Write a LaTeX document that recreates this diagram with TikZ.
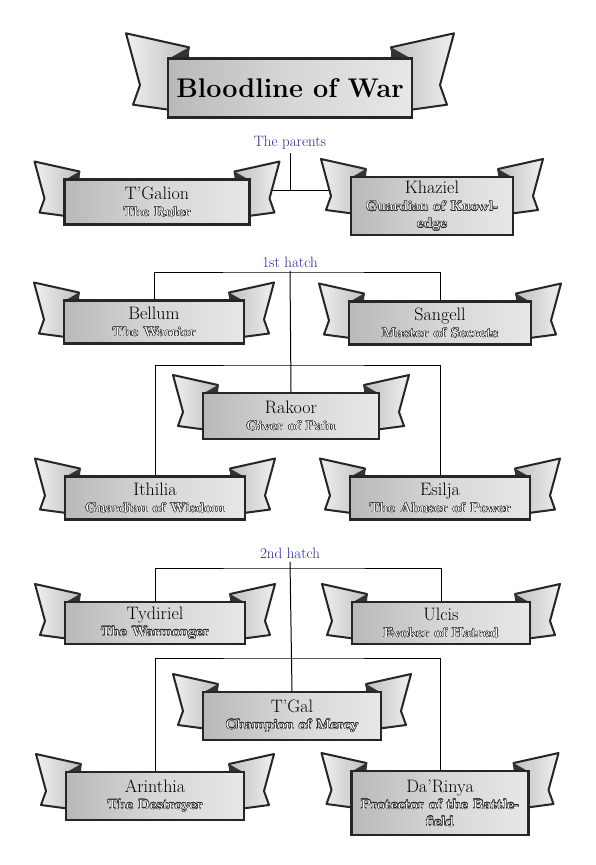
\documentclass[tikz,border=0pt]{standalone}
\usepackage{contour}
\usetikzlibrary{calc,backgrounds}
\contourlength{0.4pt}
\definecolor{hatchblue}{RGB}{36,40,150}
\pgfdeclarehorizontalshading{metal}{100bp}{color(0bp)=(gray!28); color(22bp)=(gray!58); color(50bp)=(gray!32); color(80bp)=(gray!16); color(100bp)=(gray!26)}

\newcommand{\namefont}{\fontsize{18}{17}\selectfont}
\newcommand{\who}[1]{{\namefont #1}}
% outlined subtitle: light fill, dark outline
\newcommand{\sub}[1]{{\fontsize{13.5}{17}\selectfont\bfseries\contour{black!85}{\textcolor{gray!10}{#1}}}}

% banner: [tail scale]{name}{x}{y}{width}{height}{text}
\newcommand{\banner}[7][1]{%
  \pgfmathsetmacro\bl{#3-#5/2}%
  \pgfmathsetmacro\br{#3+#5/2}%
  \pgfmathsetmacro\bt{#4-#6/2}%
  \draw[tailL] (\bl+15*#1,\bt-8*#1) -- (\bl-30*#1,\bt-18*#1) -- (\bl-20*#1,\bt+19*#1)
    -- (\bl-25*#1,\bt+33*#1) -- (\bl+5,\bt+37*#1) -- cycle;
  \draw[tailR] (\br-15*#1,\bt-8*#1) -- (\br+30*#1,\bt-18*#1) -- (\br+20*#1,\bt+19*#1)
    -- (\br+25*#1,\bt+33*#1) -- (\br-5,\bt+37*#1) -- cycle;
  \fill[fold] (\bl+15*#1,\bt-8*#1) -- (\bl+1,\bt) -- (\bl+15*#1,\bt) -- cycle;
  \fill[fold] (\br-15*#1,\bt-8*#1) -- (\br-1,\bt) -- (\br-15*#1,\bt) -- cycle;
  \node[ribbon, minimum width=#5pt, minimum height=#6pt] (#2) at (#3,#4) {#7};
}

\tikzset{
  ribbon/.style={draw=black!85, line width=2.4pt, shading=metal, inner sep=1pt, align=center,
    font=\fontsize{13.5}{17}\selectfont},
  tailL/.style={draw=black!85, line width=2pt, line join=round, left color=gray!12, right color=gray!50},
  tailR/.style={draw=black!85, line width=2pt, line join=round, left color=gray!50, right color=gray!12},
  fold/.style={fill=black!80},
  hatchlabel/.style={text=hatchblue, font=\fontsize{15}{16}\selectfont},
  link/.style={draw=black, line width=1pt},
}

\begin{document}
\begin{tikzpicture}[x=1pt,y=-1pt]
  \useasboundingbox (0,0) rectangle (596,865);

  \banner[1.4]{title}{290}{88}{244}{59}{\fontsize{27}{30}\selectfont\bfseries Bloodline of War}

  \node[hatchlabel] (parents) at (290,143) {The parents};
  \banner{tgalion}{157}{202}{185}{45}{\who{T'Galion}\\\sub{The Ruler}}
  \banner{khaziel}{432}{206}{162}{58}{\who{Khaziel}\\\sub{Guardian of Knowl-}\\\sub{edge}}

  \node[hatchlabel] (firsthatch) at (290,262) {1st hatch};
  \banner{bellum}{154}{322}{180}{43}{\who{Bellum}\\\sub{The Warrior}}
  \banner{sangell}{440}{323}{182}{43}{\who{Sangell}\\\sub{Master of Secrets}}
  \banner{rakoor}{291}{416}{176}{46}{\who{Rakoor}\\\sub{Giver of Pain}}
  \banner{ithilia}{155}{498}{180}{43}{\who{Ithilia}\\\sub{Guardian of Wisdom}}
  \banner{esilja}{440}{498}{180}{43}{\who{Esilja}\\\sub{The Abuser of Power}}

  \node[hatchlabel] (secondhatch) at (290,553) {2nd hatch};
  \banner{tydiriel}{155}{623}{180}{42}{\who{Tydiriel}\\\sub{The Warmonger}}
  \banner{ulcis}{441}{623}{178}{42}{\who{Ulcis}\\\sub{Evoker of Hatred}}
  \banner{tgal}{292}{716}{178}{48}{\who{T'Gal}\\\sub{Champion of Mercy}}
  \banner{arinthia}{155}{796}{178}{48}{\who{Arinthia}\\\sub{The Destroyer}}
  \banner{darinya}{440}{803}{177}{64}{\who{Da'Rinya}\\\sub{Protector of the Battle-}\\\sub{field}}

  % connectors
  \begin{scope}[on background layer]
    \coordinate (pj) at (290,190);
    \draw[link] (parents.south) -- (pj);
    \draw[link] (tgalion.east |- pj) -- (khaziel.west |- pj);

    \coordinate (ha) at (290,272);
    \coordinate (hb) at (290,365);
    \draw[link] (bellum.north) |- (ha) -| (sangell.north);
    \draw[link] (firsthatch.south) -- (rakoor.north);
    \draw[link] (ithilia.north) |- (hb) -| (esilja.north);

    \coordinate (hc) at (290,568);
    \coordinate (hd) at (290,658);
    \draw[link] (tydiriel.north) |- (hc) -| (ulcis.north);
    \draw[link] (secondhatch.south) -- (tgal.north);
    \draw[link] (arinthia.north) |- (hd) -| (darinya.north);
  \end{scope}
\end{tikzpicture}
\end{document}
